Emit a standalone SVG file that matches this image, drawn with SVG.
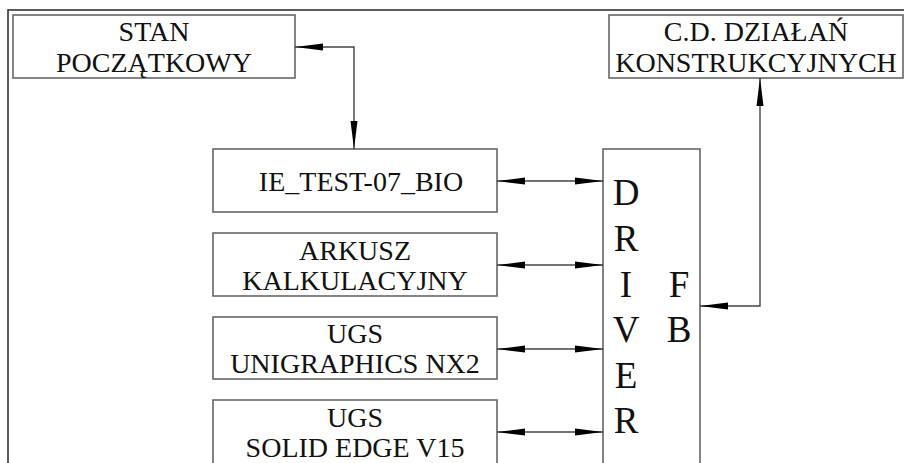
<svg xmlns="http://www.w3.org/2000/svg" width="904" height="463" viewBox="0 0 904 463">
<style>
.box{fill:#fff;stroke:#666;stroke-width:1.6}
.frame{fill:none;stroke:#333;stroke-width:1.6}
.t{font-family:'Liberation Serif','Times New Roman',serif;font-size:28px;fill:#111;text-anchor:middle}
.big{font-family:'Liberation Serif','Times New Roman',serif;font-size:37px;fill:#111;text-anchor:middle}
.c{fill:none;stroke:#444;stroke-width:1.4;marker-start:url(#ah);marker-end:url(#ah)}
</style>
<defs>
<marker id="ah" viewBox="0 0 28 8" refX="28" refY="4" markerWidth="28" markerHeight="8" markerUnits="userSpaceOnUse" orient="auto-start-reverse">
<path d="M0,0.5 L28,4 L0,7.5 z" fill="#000"/>
</marker>
</defs>
<rect width="904" height="463" fill="#fff"/>
<rect class="frame" x="8" y="10" width="1000" height="1000"/>
<g id="stan">
<rect class="box" x="13" y="15" width="282" height="63"/>
<text class="t" x="154" y="41">STAN</text>
<text class="t" x="154" y="72">POCZĄTKOWY</text>
</g>
<g id="cd">
<rect class="box" x="609" y="15" width="294" height="63"/>
<text class="t" x="756" y="41">C.D. DZIAŁAŃ</text>
<text class="t" x="756" y="72">KONSTRUKCYJNYCH</text>
</g>
<g id="ie">
<rect class="box" x="213" y="149" width="284" height="63"/>
<text class="t" x="361" y="191">IE_TEST-07_BIO</text>
</g>
<g id="arkusz">
<rect class="box" x="213" y="233" width="284" height="63"/>
<text class="t" x="355" y="260">ARKUSZ</text>
<text class="t" x="355" y="290">KALKULACYJNY</text>
</g>
<g id="nx2">
<rect class="box" x="213" y="317" width="284" height="62"/>
<text class="t" x="355" y="343">UGS</text>
<text class="t" x="355" y="373">UNIGRAPHICS NX2</text>
</g>
<g id="se">
<rect class="box" x="213" y="400" width="284" height="70"/>
<text class="t" x="355" y="427">UGS</text>
<text class="t" x="355" y="457">SOLID EDGE V15</text>
</g>
<g id="driver">
<rect class="box" x="603" y="149" width="97" height="330"/>
<text class="big" x="626" y="205">D</text>
<text class="big" x="626" y="251">R</text>
<text class="big" x="626" y="297">I</text>
<text class="big" x="626" y="342">V</text>
<text class="big" x="626" y="388">E</text>
<text class="big" x="626" y="433">R</text>
<text class="big" x="679" y="297">F</text>
<text class="big" x="679" y="342">B</text>
</g>
<g id="connectors">
<path class="c" d="M295,47 H354 V149"/>
<path class="c" d="M497,181 H603"/>
<path class="c" d="M497,265 H603"/>
<path class="c" d="M497,349 H603"/>
<path class="c" d="M497,432 H603"/>
<path class="c" d="M700,306 H760 V78"/>
</g>
</svg>
